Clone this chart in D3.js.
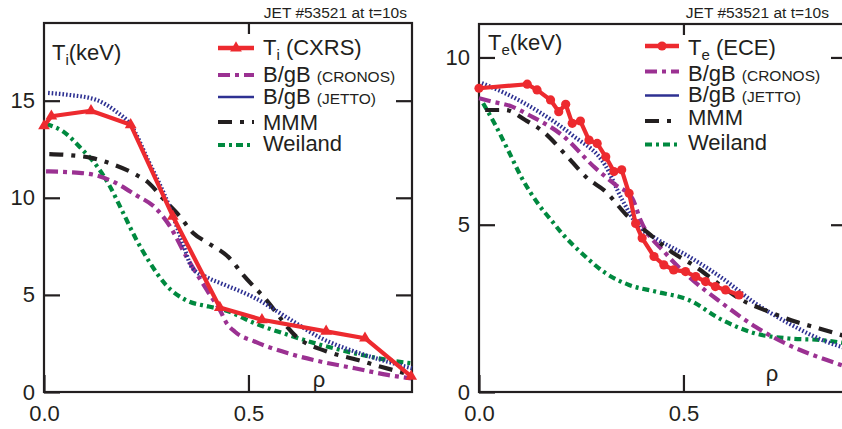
<!DOCTYPE html>
<html>
<head>
<meta charset="utf-8">
<script src="https://cdn.jsdelivr.net/npm/d3@7"></script>
<style>
  body { margin: 0; background: #fff; }
  svg { display: block; }
  text { font-family: "Liberation Sans", Arial, Helvetica, sans-serif; fill: #231f20; }
</style>
</head>
<body>
<svg id="chart" width="842" height="429"></svg>
<script>
// ---- data: ion temperature panel (left) ----
const tiCxrsRho = [0.0, 0.018, 0.115, 0.212, 0.315, 0.43, 0.533, 0.69, 0.785, 0.898];
const tiCxrs    = [13.7, 14.2, 14.48, 13.76, 9.05, 4.35, 3.72, 3.12, 2.77, 0.8];

const tiCronosRho = [0.005, 0.06, 0.119, 0.168, 0.224, 0.273, 0.306, 0.35, 0.4, 0.432, 0.445, 0.467, 0.515, 0.597, 0.678, 0.76, 0.84, 0.898];
const tiCronos    = [11.36, 11.32, 11.2, 10.84, 10.15, 9.47, 8.6, 6.9, 5.2, 4.14, 3.6, 3.1, 2.6, 1.99, 1.56, 1.22, 0.88, 0.7];

const tiJettoRho = [0.01, 0.06, 0.127, 0.176, 0.212, 0.256, 0.305, 0.338, 0.363, 0.402, 0.444, 0.515, 0.597, 0.678, 0.76, 0.84, 0.9];
const tiJetto    = [15.4, 15.3, 15.05, 14.45, 13.76, 11.87, 9.64, 7.75, 6.37, 5.87, 5.5, 4.85, 3.8, 2.77, 2.08, 1.56, 1.22];

const tiMmmRho = [0.013, 0.06, 0.119, 0.171, 0.224, 0.257, 0.29, 0.33, 0.364, 0.403, 0.454, 0.487, 0.54, 0.62, 0.69, 0.768, 0.824, 0.885];
const tiMmm    = [12.25, 12.2, 12.04, 11.7, 11.2, 10.75, 9.98, 9.1, 8.2, 7.65, 6.89, 6.03, 4.83, 2.8, 2.1, 1.65, 1.3, 0.96];

const tiWeilandRho = [0.005, 0.046, 0.094, 0.127, 0.159, 0.192, 0.224, 0.257, 0.298, 0.346, 0.403, 0.444, 0.515, 0.597, 0.678, 0.76, 0.84, 0.898];
const tiWeiland    = [13.8, 13.42, 12.47, 11.7, 10.67, 9.29, 7.92, 6.72, 5.52, 4.74, 4.4, 4.2, 3.54, 2.94, 2.42, 1.99, 1.65, 1.48];

// ---- data: electron temperature panel (right) ----
const teEceRho = [0.0, 0.118, 0.142, 0.175, 0.195, 0.212, 0.228, 0.248, 0.269, 0.289, 0.31, 0.33, 0.349, 0.367, 0.383, 0.399, 0.428, 0.452, 0.476, 0.505, 0.53, 0.554, 0.578, 0.603, 0.636];
const teEce    = [9.08, 9.2, 9.03, 8.73, 8.38, 8.6, 8.03, 8.1, 7.53, 7.43, 7.03, 6.59, 6.64, 5.94, 5.04, 4.6, 4.05, 3.8, 3.65, 3.6, 3.45, 3.3, 3.15, 3.05, 2.9];

const teCronosRho = [0.0, 0.032, 0.081, 0.122, 0.203, 0.285, 0.334, 0.375, 0.395, 0.456, 0.513, 0.595, 0.676, 0.758, 0.84, 0.9];
const teCronos    = [8.78, 8.68, 8.53, 8.28, 7.68, 6.69, 6.19, 5.79, 5.14, 4.15, 3.45, 2.65, 1.95, 1.4, 1.0, 0.75];

const teJettoRho = [0.007, 0.064, 0.146, 0.228, 0.31, 0.35, 0.39, 0.431, 0.513, 0.595, 0.676, 0.758, 0.84, 0.9];
const teJetto    = [9.23, 8.93, 8.38, 7.68, 6.75, 5.75, 4.95, 4.6, 4.05, 3.4, 2.65, 2.05, 1.55, 1.3];

const teMmmRho = [0.015, 0.064, 0.113, 0.159, 0.212, 0.265, 0.31, 0.36, 0.42, 0.464, 0.529, 0.595, 0.636, 0.709, 0.775, 0.832, 0.9];
const teMmm    = [8.43, 8.43, 8.13, 7.76, 7.09, 6.39, 5.99, 5.3, 4.69, 4.25, 3.75, 3.15, 2.8, 2.4, 2.1, 1.9, 1.65];

const teWeilandRho = [0.01, 0.04, 0.073, 0.105, 0.146, 0.179, 0.203, 0.252, 0.31, 0.367, 0.432, 0.513, 0.595, 0.676, 0.758, 0.84, 0.9];
const teWeiland    = [8.63, 7.98, 7.18, 6.39, 5.6, 5.1, 4.74, 4.14, 3.55, 3.2, 3.0, 2.75, 2.15, 1.75, 1.6, 1.55, 1.45];

// ---- tick labels ----
const xTicks = [0.0, 0.5];
const tiTicks = [0, 5, 10, 15];
const teTicks = [0, 5, 10];

const ink = "#231f20";
const svg = d3.select("#chart");

// line styles (plot, legend)
const sty = {
  red:    { color: "#ed2a2f", width: 4.2 },
  cronos: { color: "#9b3192", width: 4.2, dash: "12,5,4,5" },
  jetto:  { color: "#2e3192", width: 4.2, dash: "1.6,2", legendWidth: 2.5 },
  mmm:    { color: ink,       width: 4.2, dash: "14,8,4,8" },
  weil:   { color: "#00893f", width: 4.2, dash: "7,4,3,4" }
};

const panels = [
  {
    left: 44, top: 23, yMax: 19, yTicks: tiTicks,
    header: { x: 407, y: 17.5 },
    ylab: { x: 52, y: 60, sub: "i" },
    rho: { x: 319, y: 387 },
    legend: { x0: 218, x1: 254, tx: 263, rows: [48, 75, 97, 122, 145], base: [55, 82, 104, 129.5, 151] },
    meas: { label: "(CXRS)", sub: "i", marker: "tri" },
    series: [
      { key: "weil",   rho: tiWeilandRho, val: tiWeiland },
      { key: "cronos", rho: tiCronosRho,  val: tiCronos },
      { key: "mmm",    rho: tiMmmRho,     val: tiMmm },
      { key: "jetto",  rho: tiJettoRho,   val: tiJetto },
      { key: "red",    rho: tiCxrsRho,    val: tiCxrs, meas: true }
    ]
  },
  {
    left: 479, top: 24, yMax: 11, yTicks: teTicks,
    header: { x: 829, y: 17.5 },
    ylab: { x: 488, y: 50, sub: "e" },
    rho: { x: 772, y: 381 },
    legend: { x0: 645, x1: 679, tx: 688, rows: [46, 71.5, 95.5, 121, 144.5], base: [54.5, 80.5, 102, 125, 150] },
    meas: { label: "(ECE)", sub: "e", marker: "dot" },
    series: [
      { key: "weil",   rho: teWeilandRho, val: teWeiland },
      { key: "jetto",  rho: teJettoRho,   val: teJetto },
      { key: "cronos", rho: teCronosRho,  val: teCronos },
      { key: "mmm",    rho: teMmmRho,     val: teMmm },
      { key: "red",    rho: teEceRho,     val: teEce, meas: true }
    ]
  }
];

function marker(sel, kind, color) {
  if (kind === "tri") {
    sel.append("path").attr("d", d3.symbol(d3.symbolTriangle, 60)()).attr("fill", color);
  } else {
    sel.append("circle").attr("r", 4.6).attr("fill", color);
  }
}

panels.forEach(p => {
  const x = d3.scaleLinear().domain([0, 0.9]).range([p.left, p.left + 368]);
  const y = d3.scaleLinear().domain([0, p.yMax]).range([392, p.top]);
  const g = svg.append("g");

  // frame
  g.append("rect")
    .attr("x", x(0)).attr("y", y(p.yMax))
    .attr("width", x(0.9) - x(0)).attr("height", y(0) - y(p.yMax))
    .attr("fill", "none").attr("stroke", ink).attr("stroke-width", 2.2);

  // axes (inward ticks)
  const ax = (axis, tx, ty) => {
    const a = g.append("g").attr("transform", `translate(${tx},${ty})`).attr("color", ink).call(axis);
    a.select(".domain").remove();
    a.selectAll("line").attr("stroke-width", 2.2);
    a.selectAll("text").style("font-size", "22px").attr("fill", ink);
    return a;
  };
  ax(d3.axisLeft(y).tickValues(p.yTicks).tickSize(-16).tickSizeOuter(0).tickPadding(9).tickFormat(d3.format("d")), x(0), 0);
  ax(d3.axisRight(y).tickValues(p.yTicks.filter(v => v > 0)).tickSize(-16).tickSizeOuter(0).tickFormat(""), x(0.9), 0);
  ax(d3.axisBottom(x).tickValues(xTicks).tickSize(-17).tickSizeOuter(0).tickPadding(13).tickFormat(d3.format(".1f")), 0, y(0));
  ax(d3.axisTop(x).tickValues([0.5]).tickSize(-11).tickSizeOuter(0).tickFormat(""), 0, y(p.yMax));

  // header
  g.append("text").attr("x", p.header.x).attr("y", p.header.y)
    .attr("text-anchor", "end").style("font-size", "15.5px").text("JET #53521 at t=10s");

  // y label
  const yl = g.append("text").attr("x", p.ylab.x).attr("y", p.ylab.y).style("font-size", "22px");
  yl.append("tspan").text("T");
  yl.append("tspan").attr("dy", 5).style("font-size", "15px").text(p.ylab.sub);
  yl.append("tspan").attr("dy", -5).text("(keV)");

  // rho label
  g.append("text").attr("x", p.rho.x).attr("y", p.rho.y).attr("text-anchor", "middle")
    .style("font-size", "22px").text("ρ");

  // curves
  p.series.forEach(s => {
    const st = sty[s.key];
    const pts = d3.zip(s.rho, s.val);
    const line = d3.line().x(d => x(d[0])).y(d => y(d[1]))
      .curve(s.meas ? d3.curveLinear : d3.curveMonotoneX);
    g.append("path").datum(pts)
      .attr("d", line)
      .attr("fill", "none")
      .attr("stroke", st.color)
      .attr("stroke-width", st.width)
      .attr("stroke-dasharray", st.dash || null)
      .attr("stroke-linejoin", "round");
    if (s.meas) {
      g.selectAll(null).data(pts).enter().append("g")
        .attr("transform", d => `translate(${x(d[0])},${y(d[1])})`)
        .each(function () { marker(d3.select(this), p.meas.marker, st.color); });
    }
  });

  // legend
  const L = p.legend;
  const legendItems = ["red", "cronos", "jetto", "mmm", "weil"];
  legendItems.forEach((k, i) => {
    const st = sty[k];
    const ly = L.rows[i];
    g.append("line")
      .attr("x1", L.x0).attr("x2", L.x1).attr("y1", ly).attr("y2", ly)
      .attr("stroke", st.color)
      .attr("stroke-width", k === "jetto" ? st.legendWidth : (k === "red" ? 4.5 : 4.2))
      .attr("stroke-dasharray", k === "jetto" ? null : (st.dash || null));
    if (k === "red") {
      const m = g.append("g").attr("transform", `translate(${(L.x0 + L.x1) / 2},${ly})`);
      marker(m, p.meas.marker, st.color);
    }
    const t = g.append("text").attr("x", L.tx).attr("y", L.base[i]).style("font-size", "22px");
    if (k === "red") {
      t.append("tspan").text("T");
      t.append("tspan").attr("dy", 5).style("font-size", "15px").text(p.meas.sub);
      t.append("tspan").attr("dy", -5).text(" " + p.meas.label);
    } else if (k === "cronos" || k === "jetto") {
      t.append("tspan").text("B/gB ");
      t.append("tspan").style("font-size", "15.5px").text(k === "cronos" ? "(CRONOS)" : "(JETTO)");
    } else if (k === "mmm") {
      t.text(" MMM");
    } else {
      t.text("Weiland");
    }
  });
});
</script>
</body>
</html>
